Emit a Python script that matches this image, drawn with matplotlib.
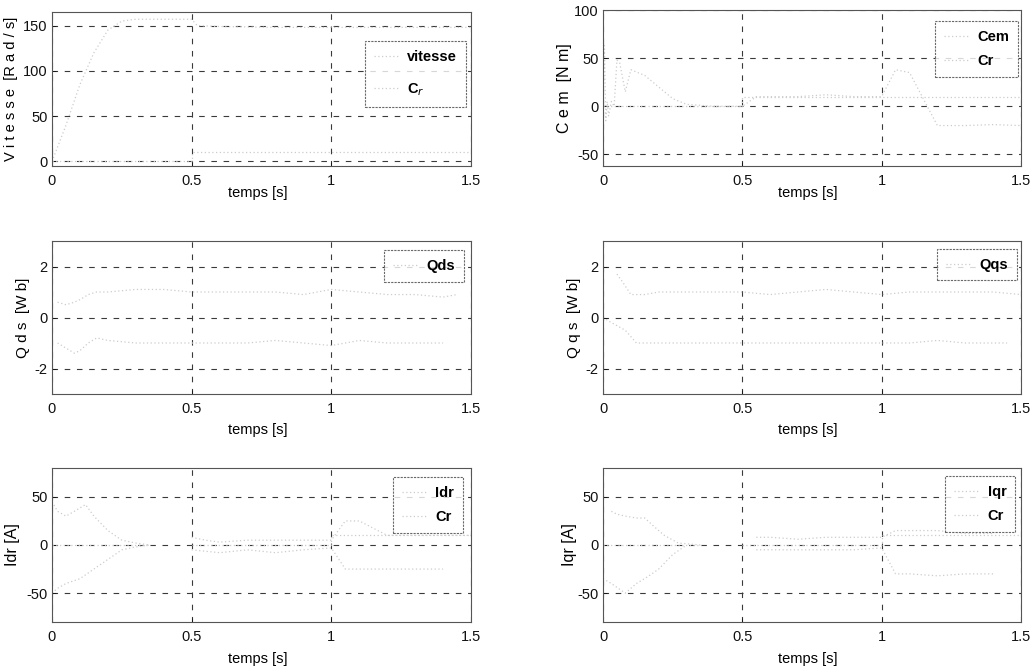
import numpy as np
import matplotlib
matplotlib.use("Agg")
import matplotlib.pyplot as plt

plt.rcParams['font.family'] = ['Liberation Sans Narrow', 'Liberation Sans', 'DejaVu Sans']

nan = np.nan

# ---------------- data ----------------
x_ticks = [0, 0.5, 1, 1.5]
x_tick_labels = ['0', '0.5', '1', '1.5']

# Vitesse / Cr
t_vit = [0, 0.05, 0.1, 0.15, 0.2, 0.25, 0.3, 0.4, 0.5, 0.52, 0.6, 0.8, 0.97, 1.0, 1.2, 1.5]
vitesse = [0, 40, 85, 120, 145, 155, 157, 157, 157, 150, 149, 148, 148, 148, 148, 148]
t_cr1 = [0, 0.5, 0.5, 1.5]
cr1 = [0, 0, 10, 10]

# Cem / Cr
t_cem = [0, 0.005, 0.01, 0.015, 0.02, 0.03, 0.04, 0.05, 0.06, 0.08, 0.1, 0.15, 0.2,
         0.25, 0.3, 0.4, 0.5, 0.55, 0.7, 0.8, 0.9, 1.0, 1.05, 1.1, 1.2, 1.3, 1.4, 1.5]
cem = [0, 65, -15, 5, -10, 5, 0, 48, 45, 15, 38, 32, 20,
       8, 2, 0, 0, 10, 10, 12, 10, 10, 38, 35, -20, -20, -19, -20]
t_cr2 = [0, 0.5, 0.5, 1.5]
cr2 = [0, 0, 10, 10]

# Qds (upper / lower envelope of the oscillation)
t_qds_h = [0.02, 0.05, 0.08, 0.1, 0.13, 0.16, 0.2, 0.3, 0.4, 0.5, 0.6, 0.7, 0.8, 0.9, 1.0, 1.1, 1.2, 1.3, 1.4, 1.45]
qds_haut = [0.6, 0.5, 0.6, 0.7, 0.9, 1.0, 1.0, 1.1, 1.1, 1.0, 1.0, 1.0, 1.0, 0.9, 1.1, 1.0, 0.9, 0.9, 0.8, 0.9]
t_qds_b = [0.02, 0.05, 0.08, 0.1, 0.13, 0.16, 0.2, 0.3, 0.4, 0.5, 0.6, 0.7, 0.8, 0.9, 1.0, 1.1, 1.2, 1.3, 1.4]
qds_bas = [-1.0, -1.2, -1.4, -1.3, -1.0, -0.8, -0.9, -1.0, -1.0, -1.0, -1.0, -1.0, -0.9, -1.0, -1.1, -0.9, -1.0, -1.0, -1.0]

# Qqs
t_qqs_h = [0.05, 0.07, 0.1, 0.15, 0.2, 0.3, 0.4, 0.5, 0.6, 0.7, 0.8, 0.9, 1.0, 1.1, 1.2, 1.3, 1.4, 1.5]
qqs_haut = [1.7, 1.4, 0.9, 0.9, 1.0, 1.0, 1.0, 1.0, 0.9, 1.0, 1.1, 1.0, 0.9, 1.0, 1.0, 1.0, 1.0, 0.9]
t_qqs_b = [0.0, 0.03, 0.08, 0.12, 0.2, 0.3, 0.4, 0.5, 0.6, 0.7, 0.8, 0.9, 1.0, 1.1, 1.2, 1.3, 1.45]
qqs_bas = [0.0, -0.2, -0.5, -1.0, -1.0, -1.0, -1.0, -1.0, -1.0, -1.0, -1.0, -1.0, -1.0, -1.0, -0.9, -1.0, -1.0]

# Idr
t_idr_h = [0.0, 0.02, 0.05, 0.08, 0.12, 0.15, 0.2, 0.25, 0.3, 0.35, nan, 0.5, 0.55, 0.6, 0.7, 0.8, 0.9, 1.0, 1.05, 1.1, 1.2, 1.3, 1.4, 1.5]
idr_haut = [45, 35, 30, 35, 42, 30, 15, 5, 2, 0, nan, 8, 5, 3, 5, 5, 5, 5, 25, 25, 10, 10, 10, 10]
t_idr_b = [0.0, 0.02, 0.05, 0.1, 0.15, 0.2, 0.25, 0.3, 0.35, nan, 0.5, 0.6, 0.7, 0.8, 0.9, 1.0, 1.05, 1.1, 1.2, 1.3, 1.4]
idr_bas = [-50, -45, -40, -35, -25, -15, -5, -2, 0, nan, -5, -8, -5, -8, -5, -3, -25, -25, -25, -25, -25]
t_cr3 = [0, 0.35, nan, 0.5, 1.0, 1.0, 1.5]
cr3 = [0, 0, nan, 0, 0, 10, 10]

# Iqr
t_iqr_h = [0.03, 0.05, 0.08, 0.12, 0.15, 0.18, 0.22, 0.27, 0.35, nan, 0.55, 0.6, 0.7, 0.8, 0.9, 1.0, 1.05, 1.1, 1.2, 1.3, 1.4]
iqr_haut = [35, 32, 30, 28, 28, 20, 10, 2, 0, nan, 8, 8, 6, 8, 8, 8, 15, 15, 15, 12, 12]
t_iqr_b = [0.0, 0.03, 0.08, 0.12, 0.16, 0.2, 0.25, 0.3, nan, 0.55, 0.6, 0.7, 0.8, 0.9, 1.0, 1.05, 1.1, 1.2, 1.3, 1.4]
iqr_bas = [-35, -40, -50, -40, -33, -25, -10, 0, nan, -5, -5, -5, -5, -5, -3, -30, -30, -32, -30, -30]
t_cr4 = [0, 0.35, nan, 0.5, 1.0, 1.0, 1.5]
cr4 = [0, 0, nan, 0, 0, 10, 10]

# ---------------- figure ----------------
fig = plt.figure(figsize=(10.32, 6.70), dpi=100)
W, H = 1032, 670

def make_ax(x0, x1, ytop, ybot):
    return fig.add_axes([x0 / W, 1 - ybot / H, (x1 - x0) / W, (ybot - ytop) / H])

data_col = '#cccccc'
grid_col = '#3a3a3a'

def style(ax, ylim, yticks, ylabel, ylab_x, xlab_y, ylab_size=11.5):
    ax.set_xlim(0, 1.5)
    ax.set_ylim(*ylim)
    ax.set_xticks(x_ticks)
    ax.set_xticklabels(x_tick_labels)
    ax.set_yticks(yticks)
    ax.set_yticklabels([str(v) for v in yticks])
    ax.tick_params(direction='in', length=3, width=0.6, labelsize=10.5, pad=3,
                   colors='#111111')
    ax.tick_params(axis='x', pad=6)
    ax.grid(True, linestyle=(0, (5, 6)), color=grid_col, linewidth=0.8)
    for s in ax.spines.values():
        s.set_color('#555555')
        s.set_linewidth(0.8)
        s.set_linestyle((0, (3, 1)))
    ax.set_ylabel(ylabel, fontsize=ylab_size)
    ax.yaxis.set_label_coords(ylab_x, 0.5)
    ax.set_xlabel('temps [s]', fontsize=10.5)
    ax.xaxis.set_label_coords(0.49, xlab_y)

def legend(ax, anchor, spacing):
    leg = ax.legend(loc='upper right', bbox_to_anchor=anchor, fontsize=10.5,
                    handlelength=1.7, frameon=True, fancybox=False,
                    labelspacing=spacing, borderpad=0.6, handletextpad=0.6,
                    borderaxespad=0)
    fr = leg.get_frame()
    fr.set_edgecolor('#444444')
    fr.set_linewidth(0.8)
    fr.set_linestyle((0, (2, 1)))
    for txt in leg.get_texts():
        txt.set_fontweight('bold')
    return leg

lk = dict(color=data_col, linestyle=(0, (1, 2)), linewidth=0.9)

# Row 1 left : vitesse
ax1 = make_ax(52, 471, 12, 166)
ax1.plot(t_vit, vitesse, label='vitesse', **lk)
ax1.plot(t_cr1, cr1, label='C$_r$', **lk)
style(ax1, (-5, 165), [0, 50, 100, 150], 'V i t e s s e  [R a d / s]', -0.08, -0.13, 10.5)
legend(ax1, (0.988, 0.812), 1.2)

# Row 1 right : Cem
ax2 = make_ax(603, 1021, 10, 166)
ax2.plot(t_cem, cem, label='Cem', **lk)
ax2.plot(t_cr2, cr2, label='Cr', **lk)
style(ax2, (-62, 100), [-50, 0, 50, 100], 'C e m  [N m]', -0.075, -0.13)
legend(ax2, (0.993, 0.929), 0.7)

# Row 2 left : Qds
ax3 = make_ax(52, 471, 241, 394)
ax3.plot(t_qds_h, qds_haut, label='Qds', **lk)
ax3.plot(t_qds_b, qds_bas, **lk)
style(ax3, (-3, 3), [-2, 0, 2], 'Q d s  [W b]', -0.052, -0.19, 11)
legend(ax3, (0.983, 0.941), 0.5)

# Row 2 right : Qqs
ax4 = make_ax(603, 1021, 241, 394)
ax4.plot(t_qqs_h, qqs_haut, label='Qqs', **lk)
ax4.plot(t_qqs_b, qqs_bas, **lk)
style(ax4, (-3, 3), [-2, 0, 2], 'Q q s  [W b]', -0.052, -0.19, 11)
legend(ax4, (0.990, 0.948), 0.5)

# Row 3 left : Idr
ax5 = make_ax(52, 471, 468, 622)
ax5.plot(t_idr_h, idr_haut, label='Idr', **lk)
ax5.plot(t_idr_b, idr_bas, **lk)
ax5.plot(t_cr3, cr3, label='Cr', **lk)
style(ax5, (-80, 80), [-50, 0, 50], 'Idr [A]', -0.076, -0.195)
legend(ax5, (0.981, 0.942), 0.7)

# Row 3 right : Iqr
ax6 = make_ax(603, 1021, 468, 622)
ax6.plot(t_iqr_h, iqr_haut, label='Iqr', **lk)
ax6.plot(t_iqr_b, iqr_bas, **lk)
ax6.plot(t_cr4, cr4, label='Cr', **lk)
style(ax6, (-80, 80), [-50, 0, 50], 'Iqr [A]', -0.062, -0.195)
legend(ax6, (0.986, 0.948), 0.7)

fig.savefig('out.png', dpi=100, facecolor='white')
